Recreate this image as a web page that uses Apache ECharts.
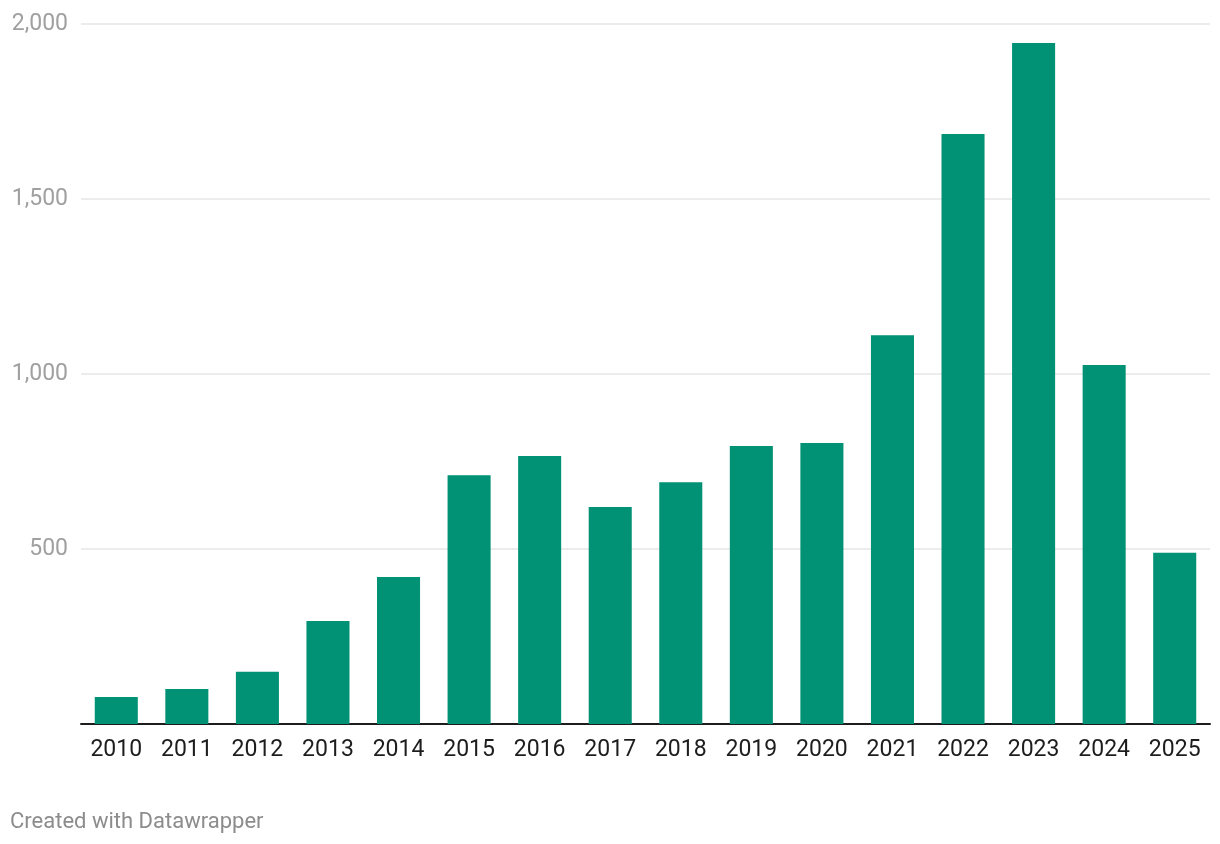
<!DOCTYPE html>
<html>
<head>
<meta charset="utf-8">
<script src="https://cdn.jsdelivr.net/npm/echarts@6/dist/echarts.min.js"></script>
<style>
html,body{margin:0;padding:0;background:#fff;}
#chart{width:1220px;height:844px;}
</style>
</head>
<body>
<div id="chart"></div>
<script>
var categories = ['2010','2011','2012','2013','2014','2015','2016','2017','2018','2019','2020','2021','2022','2023','2024','2025'];
var values = [77, 100, 149, 294, 420, 711, 766, 620, 691, 794, 803, 1111, 1686, 1946, 1026, 489];
var yTicks = [0, 500, 1000, 1500, 2000];

var chart = echarts.init(document.getElementById('chart'));
chart.setOption({
  animation: false,
  backgroundColor: '#ffffff',
  textStyle: { fontFamily: 'Roboto' },
  grid: { left: 81, right: 10, top: 24, bottom: 120, containLabel: false },
  xAxis: {
    type: 'category',
    data: categories,
    axisLine: { show: true, lineStyle: { color: '#1d1d1d', width: 2 } },
    axisTick: { show: false },
    axisLabel: { color: '#1d1d1d', fontSize: 23, margin: 15, fontFamily: 'Roboto' }
  },
  yAxis: {
    type: 'value',
    min: yTicks[0],
    max: yTicks[yTicks.length - 1],
    interval: 500,
    axisLine: { show: false },
    axisTick: { show: false },
    splitLine: { show: true, lineStyle: { color: '#e6e6e6', width: 1.5 } },
    axisLabel: {
      color: '#a0a0a0', fontSize: 23, margin: 13, fontFamily: 'Roboto',
      formatter: function (v) { return v === 0 ? '' : v.toLocaleString('en-US'); }
    }
  },
  series: [{
    type: 'bar',
    data: values,
    barCategoryGap: '39%',
    itemStyle: { color: '#019174' }
  }],
  graphic: [{
    type: 'text',
    left: 10,
    top: 811,
    style: { text: 'Created with Datawrapper', fill: '#8c8c8c', fontSize: 22, fontFamily: 'Roboto' }
  }]
});
</script>
</body>
</html>
